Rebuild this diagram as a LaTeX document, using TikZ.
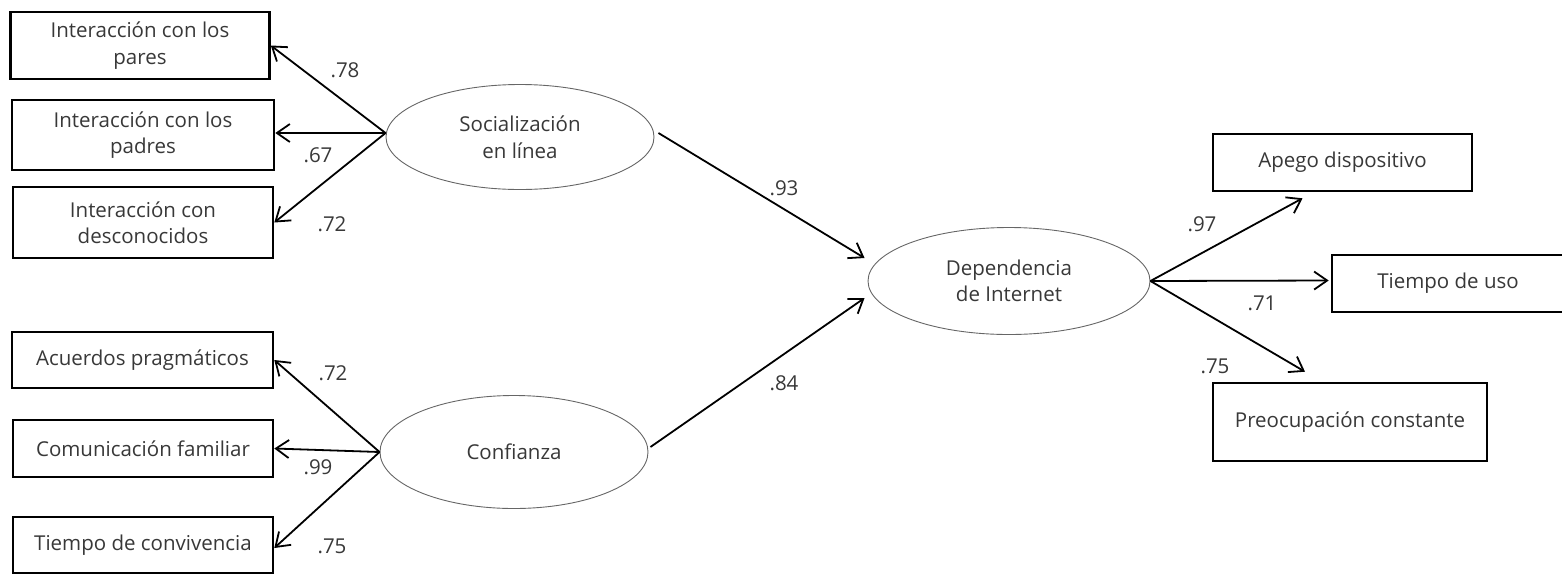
\documentclass[tikz,border=0pt]{standalone}
\usepackage{fontspec}
\setmainfont{Open Sans}
\usetikzlibrary{shapes.geometric,arrows.meta}

\begin{document}
\begin{tikzpicture}[x=1pt,y=-1pt]
    \tikzstyle{every node}=[font=\fontsize{20.5}{26.5}\selectfont, text=black!78]
    \tikzstyle{obs}=[draw=black, line width=2.6pt, inner sep=0pt, align=center]
    \tikzstyle{lat}=[ellipse, draw=black!60, line width=0.9pt, inner sep=0pt, align=center]
    \tikzstyle{path}=[black, line width=1.8pt, ->, >={Straight Barb[length=13pt,width=18pt]}]
    \tikzstyle{coef}=[inner sep=0pt]

    \useasboundingbox (0,0) rectangle (1562,574);

    % latent variables
    \node[lat, minimum width=268, minimum height=105] (soc) at (520,137) {Socialización\\en línea};
    \node[lat, minimum width=268, minimum height=113] (conf) at (514,452) {Confianza};
    \node[lat, minimum width=282, minimum height=107] (dep) at (1009,281) {Dependencia\\de Internet};

    % observed variables
    \node[obs, minimum width=259, minimum height=67] (pares) at (140,45.5) {Interacción con los\\pares};
    \node[obs, minimum width=262, minimum height=70] (padres) at (143,135) {Interacción con los\\padres};
    \node[obs, minimum width=260, minimum height=71] (desc) at (143,222.5) {Interacción con\\desconocidos};
    \node[obs, minimum width=261, minimum height=56] (acuer) at (142.5,360) {Acuerdos pragmáticos};
    \node[obs, minimum width=260, minimum height=57] (comun) at (143,448.5) {Comunicación familiar};
    \node[obs, minimum width=260, minimum height=56] (conv) at (143,545) {Tiempo de convivencia};
    \node[obs, minimum width=259, minimum height=57] (apego) at (1342.5,162.5) {Apego dispositivo};
    \node[obs, minimum width=232, minimum height=57] (uso) at (1448,283.5) {Tiempo de uso};
    \node[obs, minimum width=274, minimum height=78] (preoc) at (1350,422) {Preocupación constante};

    \draw[path] ([yshift=4pt]soc.west) -- (pares.east);
    \draw[path] ([yshift=4pt]soc.west) -- ([yshift=2pt]padres.east);
    \draw[path] ([yshift=4pt]soc.west) -- (desc.east);
    \draw[path] (conf.west) -- (acuer.east);
    \draw[path] (conf.west) -- (comun.east);
    \draw[path] (conf.west) -- ([yshift=-3pt]conv.east);
    \draw[path] ([xshift=4pt,yshift=4pt]soc.east) -- ([xshift=-3pt,yshift=23pt]dep.west);
    \draw[path] ([xshift=2pt,yshift=5pt]conf.east) -- ([xshift=-3pt,yshift=-17pt]dep.west);
    \draw[path] (dep.east) -- ([xshift=-40pt,yshift=-6pt]apego.south);
    \draw[path] (dep.east) -- ([xshift=-2pt,yshift=3pt]uso.west);
    \draw[path] (dep.east) -- ([xshift=-45pt,yshift=10pt]preoc.north);

    % loadings
    \node[coef] (l1) at (345,70) {.78};
    \node[coef] (l2) at (318,155) {.67};
    \node[coef] (l3) at (332,224) {.72};
    \node[coef] (l4) at (333,373) {.72};
    \node[coef] (l5) at (318,467) {.99};
    \node[coef] (l6) at (332,546) {.75};
    \node[coef] (l7) at (784,188) {.93};
    \node[coef] (l8) at (784,383) {.84};
    \node[coef] (l9) at (1202,224) {.97};
    \node[coef] (l10) at (1262,303) {.71};
    \node[coef] (l11) at (1215,366) {.75};
\end{tikzpicture}
\end{document}
